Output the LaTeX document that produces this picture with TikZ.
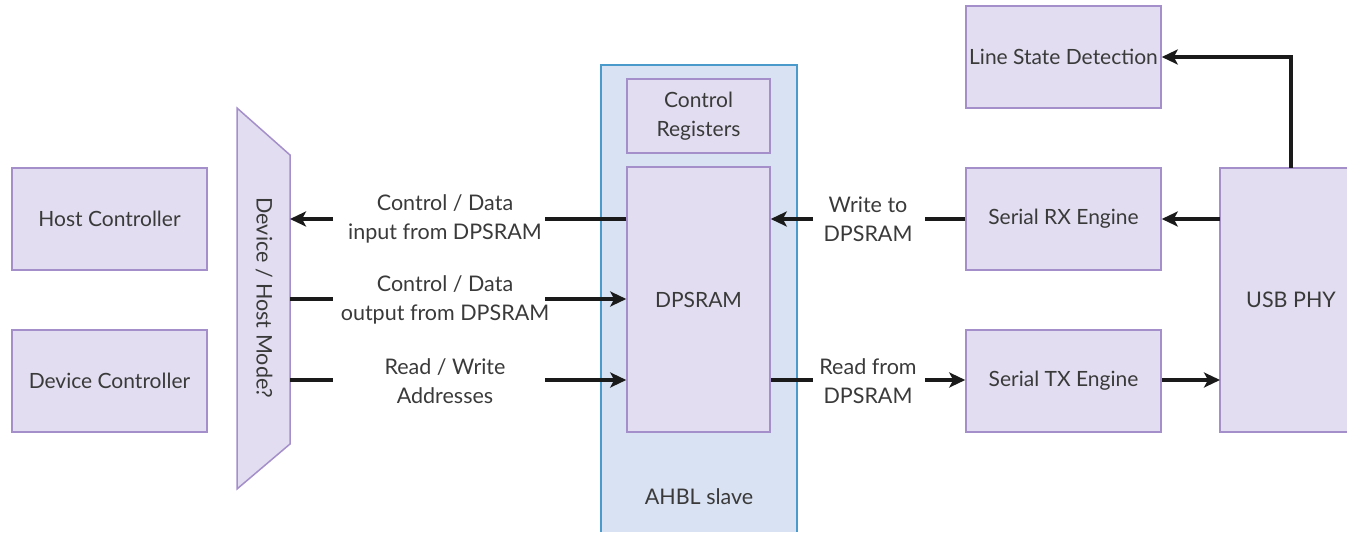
\documentclass[tikz,border=0pt]{standalone}
\usepackage{fontspec}
\setmainfont{Lato}
\usetikzlibrary{arrows.meta}
\definecolor{boxfill}{HTML}{E2DDF0}
\definecolor{boxline}{HTML}{A48FCB}
\definecolor{busfill}{HTML}{D9E2F2}
\definecolor{busline}{HTML}{4A9BCB}
\definecolor{txt}{HTML}{3A3A3A}
\definecolor{wire}{HTML}{1A1A1A}
\tikzset{
  blk/.style={draw=boxline, fill=boxfill, line width=1.5pt, inner sep=1pt, text=txt, font=\fontsize{21}{29}\selectfont, align=center},
  lbl/.style={text=txt, font=\fontsize{21.5}{29}\selectfont, align=center},
  plain/.style={text=txt, font=\fontsize{21.5}{29}\selectfont},
  wireline/.style={draw=wire, line width=4pt},
  arr/.style={wireline, -{Stealth[length=16pt, width=15pt, inset=4pt]}},
}
\begin{document}
\begin{tikzpicture}[x=1pt, y=-1pt]
\useasboundingbox (0,0) rectangle (1347,534);

% AHBL slave container
\draw[draw=busline, fill=busfill, line width=1.5pt] (601,532) -- (601,65) -- (797,65) -- (797,532);
\node[plain] (ahbl) at (699,497) {AHBL slave};

% blocks
\node[blk, minimum width=195pt, minimum height=102pt] (host) at (109.5,219) {Host Controller};
\node[blk, minimum width=195pt, minimum height=102pt] (dev) at (109.5,381) {Device Controller};
\node[blk, minimum width=143pt, minimum height=74pt] (creg) at (698.5,116) {Control\\Registers};
\node[blk, minimum width=143pt, minimum height=265pt] (ram) at (698.5,299.5) {DPSRAM};
\node[blk, minimum width=195pt, minimum height=102pt] (lsd) at (1063.5,57) {Line State Detection};
\node[blk, minimum width=195pt, minimum height=102pt] (rx) at (1063.5,219) {Serial RX Engine};
\node[blk, minimum width=195pt, minimum height=102pt] (tx) at (1063.5,381) {Serial TX Engine};
\draw[draw=boxline, fill=boxfill, line width=1.5pt] (1350,168) -- (1220,168) -- (1220,432) -- (1350,432);
\node[plain] (phy) at (1291,300) {USB PHY};
\coordinate (phyL1) at (1220,219);
\coordinate (phyL2) at (1220,380);
\coordinate (phyT) at (1291,168);

% mode multiplexer
\draw[draw=boxline, fill=boxfill, line width=1.5pt] (237,108) -- (290,155) -- (290,444) -- (237,489) -- cycle;
\node[plain, rotate=-90] (mux) at (264,298) {Device / Host Mode?};
\coordinate (muxR1) at (290,219);
\coordinate (muxR2) at (290,299);
\coordinate (muxR3) at (290,380);

% left-side buses with labels
\node[lbl] (l1) at (445,219) {Control / Data\\input from DPSRAM};
\node[lbl] (l2) at (445,300) {Control / Data\\output from DPSRAM};
\node[lbl] (l3) at (445,381) {Read / Write\\Addresses};
\coordinate (a1) at (333,219); \coordinate (b1) at (545,219);
\coordinate (a2) at (333,299); \coordinate (b2) at (545,299);
\coordinate (a3) at (333,380); \coordinate (b3) at (545,380);
\draw[wireline] (ram.west |- b1) -- (b1);
\draw[arr] (a1) -- (muxR1);
\draw[wireline] (muxR2) -- (a2);
\draw[arr] (b2) -- (ram.west |- b2);
\draw[wireline] (muxR3) -- (a3);
\draw[arr] (b3) -- (ram.west |- b3);

% right-side buses with labels
\node[lbl] (l4) at (868,219) {Write to\\DPSRAM};
\node[lbl] (l5) at (868,381) {Read from\\DPSRAM};
\coordinate (c1) at (813,219); \coordinate (d1) at (925,219);
\coordinate (c2) at (813,380); \coordinate (d2) at (925,380);
\draw[wireline] (rx.west) -- (d1);
\draw[arr] (c1) -- (ram.east |- c1);
\draw[wireline] (ram.east |- c2) -- (c2);
\draw[arr] (d2) -- (tx.west |- d2);

% PHY links
\draw[arr] (phyL1) -- (rx.east |- phyL1);
\draw[arr] (tx.east |- phyL2) -- (phyL2);
\draw[arr] (phyT) |- (lsd.east);
\end{tikzpicture}
\end{document}
